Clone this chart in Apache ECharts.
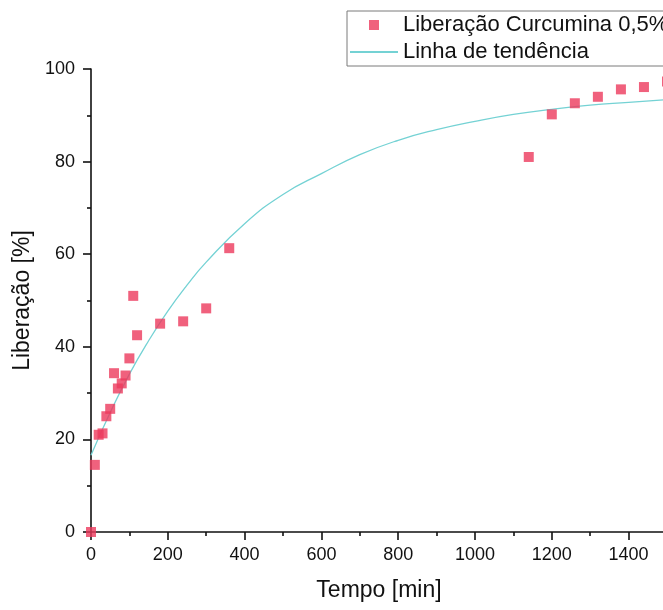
<!DOCTYPE html>
<html>
<head>
<meta charset="utf-8">
<script src="https://cdn.jsdelivr.net/npm/echarts@6/dist/echarts.min.js"></script>
<style>
  html, body { margin: 0; padding: 0; background: #fff; overflow: hidden; width: 663px; height: 610px; }
  #chart { width: 720px; height: 610px; }
</style>
</head>
<body>
<div id="chart"></div>
<script>
// Measured release data
const timeMin = [0, 10, 20, 30, 40, 50, 60, 70, 80, 90, 100, 110, 120, 180, 240, 300, 360, 1140, 1200, 1260, 1320, 1380, 1440, 1500];
const releasePct = [0, 14.5, 21, 21.3, 25, 26.6, 34.3, 31, 32.1, 33.8, 37.5, 51, 42.5, 45, 45.5, 48.3, 61.3, 81, 90.2, 92.6, 94, 95.6, 96.1, 97.3];

// Trend line
const trendTime = [0, 50, 100, 150, 200, 250, 300, 400, 500, 600, 700, 800, 900, 1000, 1100, 1200, 1300, 1400, 1500];
const trendPct = [16.6, 25.8, 34.1, 41.3, 47.7, 53.3, 58.3, 66.6, 72.9, 77.4, 81.5, 84.6, 86.9, 88.7, 90.2, 91.3, 92.2, 92.8, 93.4];

const xTicks = { min: 0, max: 1500, interval: 200 };
const yTicks = { min: 0, max: 100, interval: 20 };

const seriesNames = ['Liberação Curcumina 0,5%', 'Linha de tendência'];

const font = "'Liberation Sans', Arial, sans-serif";
const chart = echarts.init(document.getElementById('chart'), null, { renderer: 'canvas' });

chart.setOption({
  animation: false,
  backgroundColor: '#ffffff',
  textStyle: { fontFamily: font, color: '#000' },
  legend: {
    orient: 'vertical',
    left: 347,
    top: 11,
    padding: [2, 10, 2, 2],
    itemWidth: 48,
    itemHeight: 10,
    itemGap: 3,
    itemTextGap: 8,
    borderColor: '#7a7a7a',
    borderWidth: 1,
    textStyle: { fontFamily: font, fontSize: 22, color: '#111', lineHeight: 24 },
    data: [
      { name: seriesNames[0], icon: 'path://M0,0L0,0M19,0L29,0L29,10L19,10ZM48,10L48,10' },
      { name: seriesNames[1], itemStyle: { opacity: 0 } }
    ]
  },
  grid: { left: 91, top: 69, width: 576, height: 463, containLabel: false },
  xAxis: {
    type: 'value',
    min: xTicks.min, max: xTicks.max, interval: xTicks.interval,
    name: 'Tempo [min]',
    nameLocation: 'middle',
    nameGap: 47,
    nameTextStyle: { fontFamily: font, fontSize: 23, color: '#111' },
    axisLine: { show: true, onZero: false, lineStyle: { color: '#111', width: 1.6 } },
    axisTick: { show: true, inside: false, length: 8, lineStyle: { color: '#111', width: 1.6 } },
    minorTick: { show: true, splitNumber: 2, length: 4, lineStyle: { color: '#111', width: 1.6 } },
    axisLabel: { fontFamily: font, fontSize: 18, color: '#111', margin: 14, showMaxLabel: false, formatter: (v) => String(v) },
    splitLine: { show: false }
  },
  yAxis: {
    type: 'value',
    min: yTicks.min, max: yTicks.max, interval: yTicks.interval,
    name: 'Liberação [%]',
    nameLocation: 'middle',
    nameGap: 53,
    nameTextStyle: { fontFamily: font, fontSize: 23, color: '#111' },
    axisLine: { show: true, onZero: false, lineStyle: { color: '#111', width: 1.6 } },
    axisTick: { show: true, inside: false, length: 8, lineStyle: { color: '#111', width: 1.6 } },
    minorTick: { show: true, splitNumber: 2, length: 4, lineStyle: { color: '#111', width: 1.6 } },
    axisLabel: { fontFamily: font, fontSize: 18, color: '#111', margin: 16, formatter: (v) => String(v) },
    splitLine: { show: false }
  },
  series: [
    {
      name: seriesNames[1],
      type: 'line',
      data: trendTime.map((t, i) => [t, trendPct[i]]),
      smooth: true,
      symbol: 'none',
      showSymbol: false,
      lineStyle: { color: '#74d2d4', width: 1.3 },
      itemStyle: { color: '#74d2d4' },
      z: 2
    },
    {
      name: seriesNames[0],
      type: 'scatter',
      data: timeMin.map((t, i) => [t, releasePct[i]]),
      symbol: 'rect',
      symbolSize: 10,
      clip: false,
      itemStyle: { color: '#ec3a5c' },
      z: 3
    }
  ]
});
</script>
</body>
</html>
